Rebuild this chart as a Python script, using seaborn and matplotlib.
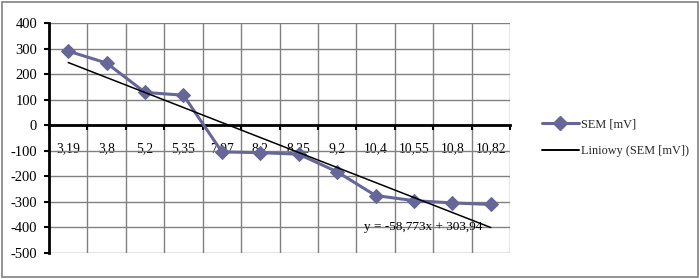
import numpy as np
import pandas as pd
import matplotlib
matplotlib.use("Agg")
import matplotlib.pyplot as plt
import seaborn as sns
from matplotlib.patches import Rectangle
from matplotlib.lines import Line2D

categories = ["3,19", "3,8", "5,2", "5,35", "7,97", "8,2", "8,25", "9,2", "10,4", "10,55", "10,8", "10,82"]
sem_values = [290, 243, 128, 117, -105, -108, -114, -183, -276, -296, -305, -311]
trend_slope = -58.773
trend_intercept = 303.94
y_ticks = [400, 300, 200, 100, 0, -100, -200, -300, -400, -500]
series_label = "SEM [mV]"
trend_label = "Liniowy (SEM [mV])"
equation_text = "y = -58,773x + 303,94"

sns.set_theme(style="white")
plt.rcParams["font.family"] = ["Liberation Serif", "DejaVu Serif"]

pos = np.arange(1, len(categories) + 1)
df = pd.DataFrame({"pos": pos, "sem": sem_values})
df["trend"] = trend_slope * df["pos"] + trend_intercept

fig = plt.figure(figsize=(7.0, 2.79), dpi=100)
ax = fig.add_axes([49 / 700, 1 - 252.7 / 279, (510 - 49) / 700, (252.7 - 23) / 279])

line_color = "#666699"
sns.lineplot(data=df, x="pos", y="sem", ax=ax, color=line_color, lw=2.2,
             marker="D", markersize=7, markeredgecolor=line_color, zorder=4)
sns.lineplot(data=df, x="pos", y="trend", ax=ax, color="black", lw=1.1, zorder=5)

ax.set_xlim(0.5, len(categories) + 0.5)
ax.set_ylim(-500, 400)
ax.set_xlabel("")
ax.set_ylabel("")

# grid
ax.set_xticks(np.arange(0.5, len(categories) + 1, 1.0))
ax.set_xticklabels([])
ax.set_xticks(pos, minor=True)
ax.set_xticklabels(categories, minor=True)
ax.set_yticks(y_ticks)
ax.set_yticklabels([str(v) for v in y_ticks])
ax.grid(True, which="major", color="#808080", lw=1.0, zorder=0)
ax.set_axisbelow(True)

for s in ["top", "right"]:
    ax.spines[s].set_visible(False)
ax.spines["left"].set_color("black")
ax.spines["left"].set_linewidth(2)
ax.spines["bottom"].set_position(("data", 0))
ax.spines["bottom"].set_color("black")
ax.spines["bottom"].set_linewidth(2)
ax.spines["left"].set_zorder(3)
ax.spines["bottom"].set_zorder(3)

ax.tick_params(axis="y", which="major", direction="out", length=3.5, width=1.5,
               color="black", pad=5, labelcolor="black", labelsize=10.5, left=True)
ax.tick_params(axis="x", which="major", direction="out", length=3.5, width=1.5,
               color="black", bottom=True)
ax.tick_params(axis="x", which="minor", length=0, pad=12.5, labelcolor="black",
               labelsize=9.8, bottom=True)

ax.text(10.23, -400, equation_text, fontsize=9.5, ha="center", va="center", color="black", zorder=6)

handles = [
    Line2D([], [], color=line_color, lw=2.2, marker="D", markersize=7, markeredgecolor=line_color),
    Line2D([], [], color="black", lw=1.4),
]
fig.legend(handles, [series_label, trend_label], loc="center left",
           bbox_to_anchor=(531 / 700, 1 - 138 / 279), frameon=False, fontsize=8.8,
           handlelength=3.0, handletextpad=0.2, labelspacing=1.2)

fig.patches.append(Rectangle((1.5 / 700, 2 / 279), 696 / 700, 275 / 279, transform=fig.transFigure,
                             fill=False, edgecolor="#808080", lw=1.2))

fig.savefig("out.png", dpi=100)
